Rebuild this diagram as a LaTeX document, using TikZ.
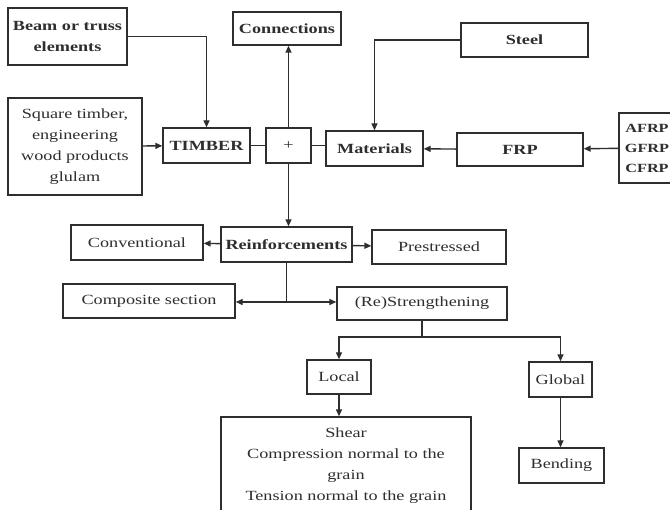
\documentclass[tikz,border=0pt]{standalone}
\usepackage{fontspec}
\setmainfont{Liberation Serif}[FakeStretch=1.3]
\usepackage{tikz}
\usetikzlibrary{arrows.meta}
\definecolor{ink}{HTML}{2E2E2E}

\begin{document}
\fontsize{14}{21}\selectfont
\begin{tikzpicture}[x=1pt,y=-1pt]
    \useasboundingbox[fill=white] (0,0) rectangle (670,510);

    \begin{scope}[every node/.style={rectangle,draw=ink,line width=1.4pt,text=ink,align=center,inner sep=0pt}]
      \node[minimum width=119pt,minimum height=57pt,font=\bfseries] (beam) at (67.5,36.5) {Beam or truss\\elements};
      \node[minimum width=108pt,minimum height=33pt,font=\bfseries] (conn) at (287,28.5) {Connections};
      \node[minimum width=127pt,minimum height=34pt,font=\bfseries] (steel) at (524.5,40) {Steel};
      \node[minimum width=134pt,minimum height=97pt] (square) at (75,146.5) {Square timber,\\engineering\\wood products\\glulam};
      \node[minimum width=87pt,minimum height=35pt,font=\bfseries] (timber) at (206.5,145.5) {TIMBER};
      \node[minimum width=45pt,minimum height=35pt] (plus) at (288.5,145.5) {+};
      \node[minimum width=97pt,minimum height=35pt,font=\bfseries] (mat) at (374.5,148.5) {Materials};
      \node[minimum width=126pt,minimum height=33pt,font=\bfseries] (frp) at (520,149.5) {FRP};
      \node[minimum width=56pt,minimum height=70pt,font=\fontsize{12.5}{20}\selectfont\bfseries] (afrp) at (647,148) {AFRP\\GFRP\\CFRP};
      \node[minimum width=131pt,minimum height=35pt,font=\bfseries] (reinf) at (286.5,244.5) {Reinforcements};
      \node[minimum width=132pt,minimum height=35pt] (conv) at (137,242.5) {Conventional};
      \node[minimum width=134pt,minimum height=34pt] (prest) at (439,247) {Prestressed};
      \node[minimum width=172pt,minimum height=34pt] (comp) at (149,301) {Composite section};
      \node[minimum width=170pt,minimum height=33pt] (restr) at (422,303.5) {(Re)Strengthening};
      \node[minimum width=64pt,minimum height=34pt] (local) at (339,377) {Local};
      \node[minimum width=63pt,minimum height=35pt] (global) at (560.5,379.5) {Global};
      \node[minimum width=250pt,minimum height=98pt] (shear) at (346,466) {Shear\\Compression normal to the\\grain\\Tension normal to the grain};
      \node[minimum width=85pt,minimum height=35pt] (bend) at (561.5,465.5) {Bending};
    \end{scope}

    \begin{scope}[>={Triangle[length=7pt,width=6pt]},
        every edge/.style={draw=ink,line width=1.4pt}]
      \coordinate (split) at (reinf.south |- 0,302);
      \coordinate (fork) at (restr.south |- 0,337);
      \path [->] (square) edge (timber)
                 (plus.north) edge (plus.north |- conn.south)
                 (plus.south) edge (plus.south |- reinf.north)
                 (frp) edge (mat)
                 (afrp) edge (frp)
                 (reinf) edge (conv)
                 (reinf) edge (prest)
                 (split) edge (split -| comp.east)
                 (split) edge (split -| restr.west)
                 (local.south) edge (local.south |- shear.north)
                 (global.south) edge (global.south |- bend.north);
      \path (timber) edge (plus)
            (plus.east) edge (plus.east -| mat.west)
            (reinf.south) edge (split)
            (restr.south) edge (fork);
      \draw [->,draw=ink,line width=1.4pt] (beam.east) -| (timber.north);
      \draw [->,draw=ink,line width=1.4pt] (steel.west) -| (mat.north);
      \draw [->,draw=ink,line width=1.4pt] (fork) -| (local.north);
      \draw [->,draw=ink,line width=1.4pt] (fork) -| (global.north);
    \end{scope}
  \end{tikzpicture}
\end{document}
